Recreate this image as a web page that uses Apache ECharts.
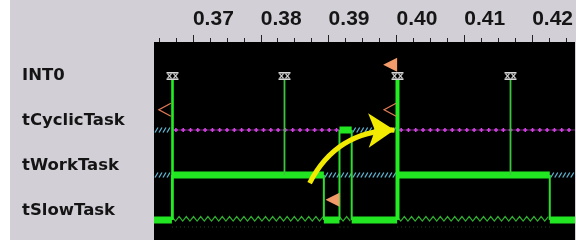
<!DOCTYPE html>
<html><head><meta charset="utf-8">
<script src="https://cdn.jsdelivr.net/npm/echarts@6/dist/echarts.min.js"></script>
<style>html,body{margin:0;padding:0;background:#fff}#c{width:576px;height:243px}</style>
</head><body><div id="c"></div>
<script>
// ---- data ----
const timeMin = 0.36426, timeMax = 0.42632;
const tickLabels = ['0.37','0.38','0.39','0.40','0.41','0.42'];
const minorTicks = [0.3650,0.3675,0.3725,0.3750,0.3775,0.3825,0.3850,0.3875,0.3925,0.3950,0.3975,0.4025,0.4050,0.4075,0.4125,0.4150,0.4175,0.4225,0.4250];
const rows = ['INT0','tCyclicTask','tWorkTask','tSlowTask'];

// task state segments: [start, end, state]
const tCyclicTask = [
  [timeMin, 0.3669, 'pended'],
  [0.3669, 0.3916, 'delayed'],
  [0.3916, 0.3934, 'running'],
  [0.3934, 0.4001, 'pended'],
  [0.4001, timeMax, 'delayed']
];
const tWorkTask = [
  [timeMin, 0.3669, 'ready'],
  [0.3669, 0.3893, 'running'],
  [0.3893, 0.4001, 'ready'],
  [0.4001, 0.4226, 'running'],
  [0.4226, timeMax, 'ready']
];
const tSlowTask = [
  [timeMin, 0.3669, 'running'],
  [0.3669, 0.3893, 'preempted'],
  [0.3893, 0.3916, 'running'],
  [0.3916, 0.3934, 'preempted'],
  [0.3934, 0.4001, 'running'],
  [0.4001, 0.4226, 'preempted'],
  [0.4226, timeMax, 'running']
];
// INT0 interrupts: time, task running when it hit
const int0Times = [0.3669, 0.3834, 0.4001, 0.4168];
const int0Running = ['tSlowTask','tWorkTask','tSlowTask','tWorkTask'];
// context switches: [time, from, to]
const contextSwitches = [
  [0.3669,'tSlowTask','tWorkTask'],
  [0.3893,'tWorkTask','tSlowTask'],
  [0.3916,'tSlowTask','tCyclicTask'],
  [0.3934,'tCyclicTask','tSlowTask'],
  [0.4001,'tSlowTask','tWorkTask'],
  [0.4226,'tWorkTask','tSlowTask']
];
// event flags: [time, row, kind]
const eventFlags = [
  [0.3669,'tCyclicTask','take'],
  [0.4001,'tCyclicTask','take'],
  [0.4001,'INT0','give'],
  [0.3916,'tSlowTask','give']
];
// annotation arrow (data coords: time, row level)
const arrowFrom = [0.3872, 3.38];
const arrowTo = [0.3997, 2.2];

// ---- helpers ----
const rowLevel = name => rows.indexOf(name) + 1;
const BASE = 0.2; // task baseline below label
const taskData = [];
[['tCyclicTask',tCyclicTask],['tWorkTask',tWorkTask],['tSlowTask',tSlowTask]].forEach(([n,segs])=>{
  segs.forEach(s=>taskData.push([s[0], s[1], rowLevel(n)+BASE, s[2]]));
});
const stateCodes = {running:0, ready:1, pended:1, delayed:2, preempted:3};

function renderState(params, api){
  const lvl = api.value(2);
  const st = taskData[params.dataIndex][3];
  const a = api.coord([api.value(0), lvl]);
  const b = api.coord([api.value(1), lvl]);
  const x0 = a[0], x1 = b[0], y = a[1];
  const ch = [];
  if (st === 'running') {
    ch.push({type:'rect', shape:{x:x0, y:y-3.5, width:x1-x0, height:7}, style:{fill:'#22e622'}});
  } else if (st === 'ready' || st === 'pended') {
    for (let x = x0 + 1; x < x1 - 2; x += 4) {
      ch.push({type:'line', shape:{x1:x, y1:y+2.5, x2:x+3, y2:y-2.5}, style:{stroke:'#5fb3cf', lineWidth:1.3}});
    }
  } else if (st === 'delayed') {
    ch.push({type:'line', shape:{x1:x0, y1:y, x2:x1, y2:y}, style:{stroke:'#6a2c72', lineWidth:1}});
    for (let x = x0 + 4; x < x1; x += 7.3) {
      ch.push({type:'line', shape:{x1:x-2, y1:y, x2:x+2, y2:y}, style:{stroke:'#d440e4', lineWidth:1.5}});
      ch.push({type:'line', shape:{x1:x, y1:y-2, x2:x, y2:y+2}, style:{stroke:'#d440e4', lineWidth:1.5}});
    }
  } else if (st === 'preempted') {
    const pts = [];
    let up = true;
    for (let x = x0; x <= x1; x += 3.6) { pts.push([x, up ? y-3.5 : y+1]); up = !up; }
    ch.push({type:'polyline', shape:{points:pts}, style:{stroke:'#30b030', lineWidth:1.2, fill:null}});
    ch.push({type:'line', shape:{x1:x0, y1:y+7, x2:x1, y2:y+7}, style:{stroke:'#1e4f1e', lineWidth:1, lineDash:[1,3]}});
  }
  return {type:'group', children:ch};
}

const switchData = contextSwitches.map(c=>[c[0], rowLevel(c[1])+BASE, rowLevel(c[2])+BASE]);
function renderSwitch(params, api){
  const a = api.coord([api.value(0), api.value(1)]);
  const b = api.coord([api.value(0), api.value(2)]);
  return {type:'line', shape:{x1:a[0], y1:a[1], x2:b[0], y2:b[1]}, style:{stroke:'#2edc2e', lineWidth:2}};
}

const switchTimes = contextSwitches.map(c=>c[0]);
const int0Data = int0Times.map((t,i)=>[t, rowLevel('INT0'), rowLevel(int0Running[i])+BASE]);
function renderInt(params, api){
  const t = api.value(0);
  const m = api.coord([t, api.value(1)]);
  const e = api.coord([t, api.value(2)]);
  const x = Math.round(m[0]) + 0.5, y = m[1];
  const strong = switchTimes.indexOf(t) >= 0;
  const ch = [];
  ch.push({type:'line', shape:{x1:x, y1:y+4, x2:x, y2:e[1]},
           style:{stroke: strong ? '#22ee22' : '#3cc43c', lineWidth: strong ? (t===0.4001?4:2.6) : 1.8}});
  const c = '#d6d6d6';
  ch.push({type:'rect', shape:{x:x-6, y:y-4, width:12, height:1.6}, style:{fill:c}});
  ch.push({type:'rect', shape:{x:x-6, y:y+2.4, width:12, height:1.6}, style:{fill:c}});
  [[-5,-1],[1,5]].forEach(([p,q])=>{
    ch.push({type:'line', shape:{x1:x+p, y1:y-2.4, x2:x+q, y2:y+2.4}, style:{stroke:c, lineWidth:1.2}});
    ch.push({type:'line', shape:{x1:x+q, y1:y-2.4, x2:x+p, y2:y+2.4}, style:{stroke:c, lineWidth:1.2}});
  });
  return {type:'group', children:ch};
}

const flagData = eventFlags.map(f=>[f[0], rowLevel(f[1]) - 0.25, f[2]==='give'?1:0]);
function renderFlag(params, api){
  const p = api.coord([api.value(0), api.value(1)]);
  const x = p[0], y = p[1];
  if (api.value(2) === 1) {
    return {type:'polygon', shape:{points:[[x,y-7],[x-14,y],[x,y+7]]}, style:{fill:'#f29a6a'}};
  }
  return {type:'polyline', shape:{points:[[x-1,y-6.5],[x-13,y],[x-1,y+6.5]]}, style:{stroke:'#e07a55', lineWidth:1.3, fill:null}};
}

const chart = echarts.init(document.getElementById('c'), null, {renderer:'canvas'});
const labelFont = {fontFamily:'"Liberation Sans Narrow","Liberation Sans",Arial,sans-serif', fontWeight:'bold', fontSize:21, color:'#151515'};
chart.setOption({
  animation:false,
  backgroundColor:'#d3cfd7',
  graphic:[
    {type:'rect', left:0, top:0, shape:{width:10, height:243}, style:{fill:'#fff'}, silent:true},
    {type:'rect', left:0, top:240, shape:{width:576, height:3}, style:{fill:'#fff'}, silent:true}
  ],
  grid:{left:154, right:0, top:42, bottom:3, show:true, backgroundColor:'#000', borderWidth:0},
  xAxis:[
    {type:'value', position:'top', min:timeMin, max:timeMax, splitLine:{show:false},
     axisLine:{show:false},
     axisTick:{show:true, length:7, customValues:tickLabels.map(Number), lineStyle:{color:'#222', width:1}},
     axisLabel:{show:true, customValues:tickLabels.map(Number), formatter:v=>tickLabels[tickLabels.map(Number).indexOf(v)] || v.toFixed(2),
       align:'left', margin:12, ...labelFont}},
    {type:'value', position:'top', min:timeMin, max:timeMax, splitLine:{show:false},
     axisLine:{show:false}, axisLabel:{show:false},
     axisTick:{show:true, length:4, customValues:minorTicks, lineStyle:{color:'#222', width:1}}}
  ],
  yAxis:{type:'value', inverse:true, min:0.2444, max:4.6444, splitLine:{show:false},
    axisLine:{show:false}, axisTick:{show:false},
    axisLabel:{customValues:[1,2,3,4], formatter:v=>rows[Math.round(v)-1], align:'left', margin:132,
      fontFamily:'"DejaVu Sans",Verdana,sans-serif', fontWeight:'bold', fontSize:16.5, color:'#141414'}},
  series:[
    {type:'custom', z:2, renderItem:renderState, data:taskData.map(d=>[d[0],d[1],d[2],stateCodes[d[3]]]), clip:true},
    {type:'custom', z:3, renderItem:renderSwitch, data:switchData, clip:true},
    {type:'custom', z:4, renderItem:renderInt, data:int0Data, clip:true},
    {type:'custom', z:5, renderItem:renderFlag, data:flagData, clip:false},
    {type:'lines', coordinateSystem:'cartesian2d', z:6, symbol:['none','arrow'], symbolSize:[4,26],
     lineStyle:{color:'#f2ea00', width:5, curveness:0.3, opacity:1},
     data:[{coords:[arrowFrom, arrowTo]}]}
  ]
});
</script></body></html>
